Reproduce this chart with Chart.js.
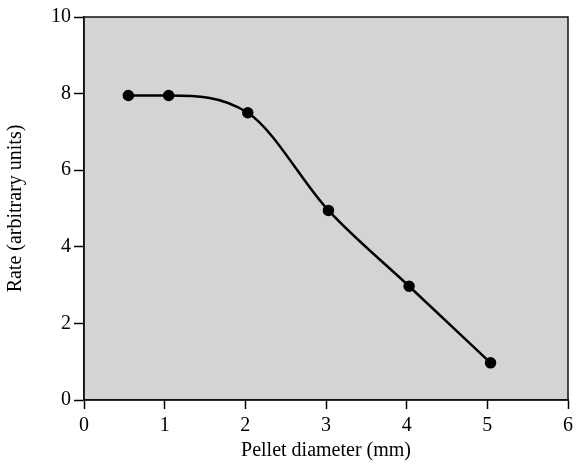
<!DOCTYPE html>
<html>
<head>
<meta charset="utf-8">
<script src="https://cdn.jsdelivr.net/npm/chart.js@4"></script>
<style>
  html, body { margin: 0; padding: 0; background: #fff; }
  #wrap { width: 578px; height: 467px; }
</style>
</head>
<body>
<div id="wrap"><canvas id="rateChart" width="578" height="467"></canvas></div>
<script>
// ================= DATA =================
const diameters = [0.55, 1.05, 2.03, 3.03, 4.03, 5.04];
const rates = [7.95, 7.95, 7.5, 4.95, 2.97, 0.97];
const xTitle = "Pellet diameter (mm)";
const yTitle = "Rate (arbitrary units)";

const FONT = "'Liberation Serif', 'Times New Roman', serif";

// gray plot background + closing box (top / right)
const plotBox = {
  id: "plotBox",
  beforeDraw(chart) {
    const a = chart.chartArea;
    const ctx = chart.ctx;
    ctx.save();
    ctx.fillStyle = "#d4d4d4";
    ctx.fillRect(a.left, a.top, a.right - a.left, a.bottom - a.top);
    ctx.restore();
  },
  afterDraw(chart) {
    const a = chart.chartArea;
    const ctx = chart.ctx;
    ctx.save();
    ctx.strokeStyle = "#111";
    ctx.lineWidth = 1.5;
    ctx.strokeRect(a.left, a.top, a.right - a.left, a.bottom - a.top);
    ctx.restore();
  },
};

new Chart(document.getElementById("rateChart"), {
  type: "line",
  data: {
    datasets: [
      {
        label: "Rate",
        data: diameters.map((x, i) => ({ x: x, y: rates[i] })),
        borderColor: "#000",
        backgroundColor: "#000",
        borderWidth: 2.5,
        pointRadius: 4.5,
        pointBackgroundColor: "#000",
        cubicInterpolationMode: "monotone",
      },
    ],
  },
  options: {
    responsive: false,
    animation: false,
    layout: { padding: { top: 17, right: 5, left: 0, bottom: 0 } },
    plugins: { legend: { display: false }, tooltip: { enabled: false } },
    scales: {
      x: {
        type: "linear",
        min: 0,
        max: 6,
        afterFit: (s) => { s.height = 67; },
        ticks: { stepSize: 1, color: "#000", padding: 5, font: { family: FONT, size: 20 } },
        grid: { drawOnChartArea: false, tickLength: 9, tickColor: "#000", tickWidth: 1.5 },
        border: { color: "#111", width: 1.5 },
        title: { display: true, text: xTitle, color: "#000", padding: { top: 0 }, font: { family: FONT, size: 20 } },
      },
      y: {
        min: 0,
        max: 10,
        afterFit: (s) => { s.width = 84; },
        ticks: { stepSize: 2, color: "#000", padding: 3, font: { family: FONT, size: 20 } },
        grid: { drawOnChartArea: false, tickLength: 10, tickColor: "#000", tickWidth: 1.5 },
        border: { color: "#111", width: 1.5 },
        title: { display: true, text: yTitle, color: "#000", padding: { bottom: 2 }, font: { family: FONT, size: 20 } },
      },
    },
  },
  plugins: [plotBox],
});
</script>
</body>
</html>
